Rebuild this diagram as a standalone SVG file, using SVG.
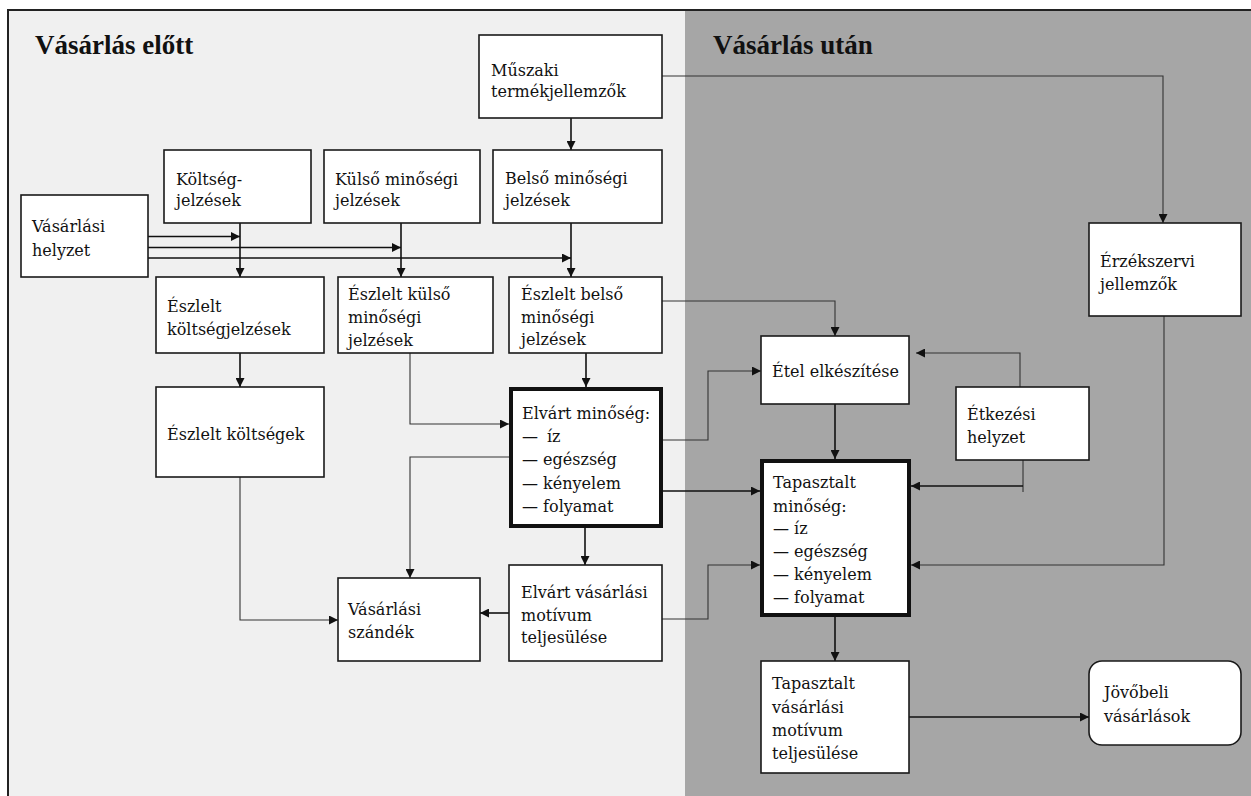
<svg xmlns="http://www.w3.org/2000/svg" width="1251" height="796" viewBox="0 0 1251 796">
<style>
.box{fill:#fff;stroke:#1a1a1a;stroke-width:1.6}
.thick{fill:#fff;stroke:#111;stroke-width:4}
.t{font-family:"DejaVu Serif","Liberation Serif",serif;font-size:16px;fill:#111}
.title{font-family:"Liberation Serif","DejaVu Serif",serif;font-size:27px;font-weight:bold;fill:#111}
.c{fill:none;stroke:#111;stroke-width:1.6}
.cl{fill:none;stroke:#333;stroke-width:1.1}
</style>
<defs>
<marker id="ah" markerUnits="userSpaceOnUse" markerWidth="9" markerHeight="9" refX="9" refY="4.5" orient="auto" viewBox="0 0 9 9">
<path d="M0,0 L9,4.5 L0,9 z" fill="#111"/>
</marker>
</defs>
<rect x="0" y="0" width="1251" height="796" fill="#fff"/>
<rect x="8" y="10" width="677" height="786" fill="#f0f0f0"/>
<rect x="685" y="10" width="566" height="786" fill="#a6a6a6"/>
<path d="M8,796 V10 H1251" fill="none" stroke="#222" stroke-width="2"/>
<text class="title" x="35" y="54">Vásárlás előtt</text>
<text class="title" x="713" y="54">Vásárlás után</text>

<g id="connectors">
<path class="c" d="M571,118 V150" marker-end="url(#ah)"/>
<path class="cl" d="M662,76 H1163 V223" marker-end="url(#ah)"/>
<path class="c" d="M240,223 V277" marker-end="url(#ah)"/>
<path class="c" d="M401,223 V277" marker-end="url(#ah)"/>
<path class="c" d="M571,223 V277" marker-end="url(#ah)"/>
<path class="c" d="M148,236.5 H240" marker-end="url(#ah)"/>
<path class="c" d="M148,247.5 H401" marker-end="url(#ah)"/>
<path class="c" d="M148,258 H571" marker-end="url(#ah)"/>
<path class="c" d="M240,353 V387" marker-end="url(#ah)"/>
<path class="cl" d="M410,353 V424 H509" marker-end="url(#ah)"/>
<path class="c" d="M586,353 V387" marker-end="url(#ah)"/>
<path class="cl" d="M662,301 H835 V336" marker-end="url(#ah)"/>
<path class="cl" d="M663,440 H708 V371 H761" marker-end="url(#ah)"/>
<path class="c" d="M663,491 H760" marker-end="url(#ah)"/>
<path class="c" d="M835,404 V459" marker-end="url(#ah)"/>
<path class="cl" d="M1020,387 V353 H916" marker-end="url(#ah)"/>
<path class="cl" d="M1023,460 V492"/>
<path class="c" d="M1023,486 H911" marker-end="url(#ah)"/>
<path class="cl" d="M1164,316 V565 H911" marker-end="url(#ah)"/>
<path class="cl" d="M509,457 H410 V578" marker-end="url(#ah)"/>
<path class="c" d="M585,528 V565" marker-end="url(#ah)"/>
<path class="c" d="M509,613 H480" marker-end="url(#ah)"/>
<path class="cl" d="M240,477 V620 H338" marker-end="url(#ah)"/>
<path class="cl" d="M662,619 H708 V565 H760" marker-end="url(#ah)"/>
<path class="c" d="M835,617 V661" marker-end="url(#ah)"/>
<path class="c" d="M909,717 H1089" marker-end="url(#ah)"/>
</g>

<g id="muszaki"><rect class="box" x="479" y="35" width="183" height="83"/>
<text class="t" x="491" y="76">Műszaki</text><text class="t" x="491" y="97">termékjellemzők</text></g>
<g id="koltseg"><rect class="box" x="164" y="150" width="147" height="73"/>
<text class="t" x="176" y="185">Költség-</text><text class="t" x="176" y="206">jelzések</text></g>
<g id="kulso"><rect class="box" x="324" y="150" width="156" height="73"/>
<text class="t" x="335" y="185">Külső minőségi</text><text class="t" x="335" y="206">jelzések</text></g>
<g id="belso"><rect class="box" x="493" y="150" width="169" height="73"/>
<text class="t" x="505" y="184">Belső minőségi</text><text class="t" x="505" y="206">jelzések</text></g>
<g id="vasarlasi-helyzet"><rect class="box" x="21" y="195" width="127" height="82"/>
<text class="t" x="32" y="232">Vásárlási</text><text class="t" x="32" y="256">helyzet</text></g>
<g id="erzekszervi"><rect class="box" x="1089" y="223" width="152" height="93"/>
<text class="t" x="1100" y="267">Érzékszervi</text><text class="t" x="1100" y="290">jellemzők</text></g>
<g id="eszlelt-koltsegjelzesek"><rect class="box" x="156" y="277" width="168" height="76"/>
<text class="t" x="167" y="312">Észlelt</text><text class="t" x="167" y="335">költségjelzések</text></g>
<g id="eszlelt-kulso"><rect class="box" x="338" y="277" width="155" height="76"/>
<text class="t" x="348" y="300">Észlelt külső</text><text class="t" x="348" y="323">minőségi</text><text class="t" x="348" y="346">jelzések</text></g>
<g id="eszlelt-belso"><rect class="box" x="509" y="277" width="153" height="76"/>
<text class="t" x="521" y="300">Észlelt belső</text><text class="t" x="521" y="323">minőségi</text><text class="t" x="521" y="345">jelzések</text></g>
<g id="eszlelt-koltsegek"><rect class="box" x="156" y="387" width="168" height="90"/>
<text class="t" x="167" y="440">Észlelt költségek</text></g>
<g id="elvart-minoseg"><rect class="thick" x="511" y="389" width="150" height="137"/>
<text class="t" x="522" y="419">Elvárt minőség:</text>
<text class="t" x="522" y="442">—<tspan dx="9">íz</tspan></text>
<text class="t" x="522" y="465">— egészség</text>
<text class="t" x="522" y="489">— kényelem</text>
<text class="t" x="522" y="512">— folyamat</text></g>
<g id="etel"><rect class="box" x="761" y="336" width="148" height="68"/>
<text class="t" x="772" y="377">Étel elkészítése</text></g>
<g id="etkezesi"><rect class="box" x="956" y="387" width="133" height="73"/>
<text class="t" x="967" y="420">Étkezési</text><text class="t" x="967" y="443">helyzet</text></g>
<g id="tapasztalt-minoseg"><rect class="thick" x="762" y="461" width="147" height="154"/>
<text class="t" x="773" y="488">Tapasztalt</text>
<text class="t" x="773" y="512">minőség:</text>
<text class="t" x="773" y="534">— íz</text>
<text class="t" x="773" y="557">— egészség</text>
<text class="t" x="773" y="580">— kényelem</text>
<text class="t" x="773" y="603">— folyamat</text></g>
<g id="vasarlasi-szandek"><rect class="box" x="338" y="578" width="142" height="83"/>
<text class="t" x="348" y="615">Vásárlási</text><text class="t" x="348" y="638">szándék</text></g>
<g id="elvart-motivum"><rect class="box" x="509" y="565" width="153" height="96"/>
<text class="t" x="521" y="598">Elvárt vásárlási</text><text class="t" x="521" y="621">motívum</text><text class="t" x="521" y="643">teljesülése</text></g>
<g id="tapasztalt-motivum"><rect class="box" x="761" y="661" width="148" height="112"/>
<text class="t" x="772" y="689">Tapasztalt</text><text class="t" x="772" y="713">vásárlási</text><text class="t" x="772" y="736">motívum</text><text class="t" x="772" y="759">teljesülése</text></g>
<g id="jovobeli"><rect class="box" x="1089" y="661" width="152" height="84" rx="13"/>
<text class="t" x="1104" y="698">Jövőbeli</text><text class="t" x="1104" y="722">vásárlások</text></g>
</svg>
